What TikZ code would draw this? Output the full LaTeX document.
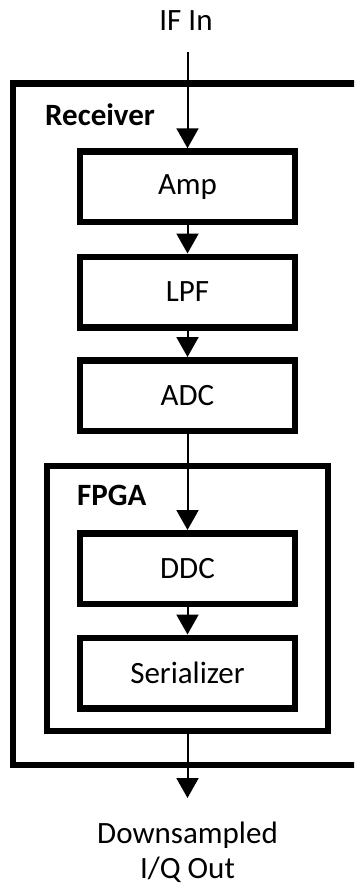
\documentclass[tikz,border=0pt]{standalone}
\usepackage{fontspec}
\setmainfont{Carlito}
\usetikzlibrary{arrows.meta}
\begin{document}
\begin{tikzpicture}[x=1pt,y=-1pt,
  every node/.style={font=\fontsize{31}{35}\selectfont},
  blockbox/.style={draw=black,line width=6.5pt,minimum width=215pt,minimum height=70.5pt,inner sep=0pt},
  groupbox/.style={draw=black,line width=6.5pt,inner sep=0pt},
  flow/.style={draw=black,line width=2pt,-{Triangle[width=22pt,length=20pt]}},
  grouplabel/.style={anchor=base west,inner sep=0pt,font=\fontsize{31}{35}\selectfont\bfseries}]
\useasboundingbox (0,0) rectangle (354,886);
\clip (0,0) rectangle (354,886);
\node[groupbox,minimum width=347pt,minimum height=681.5pt] (recv) at (186.5,424.25) {};
\node[groupbox,minimum width=281pt,minimum height=265pt] (fpga) at (187.5,598.5) {};
\node[grouplabel] (recvlbl) at (45,125) {Receiver};
\node[grouplabel] (fpgalbl) at (77,505) {FPGA};
\node[blockbox] (amp) at (187.5,186.75) {Amp};
\node[blockbox] (lpf) at (187.5,292) {LPF};
\node[blockbox] (adc) at (187.5,395.5) {ADC};
\node[blockbox] (ddc) at (187.5,568.5) {DDC};
\node[blockbox] (ser) at (187.5,673) {Serializer};
\node[anchor=base,inner sep=0pt] (ifin) at (186,30) {IF In};
\node[anchor=base,inner sep=0pt,align=center] (outlbl) at (187.5,878) {Downsampled\\I/Q Out};
\coordinate (instart) at (187.5,52);
\coordinate (outend) at (187.5,798);
\draw[flow] (instart) -- (amp.north);
\draw[flow] (amp.south) -- (lpf.north);
\draw[flow] (lpf.south) -- (adc.north);
\draw[flow] (adc.south) -- (ddc.north);
\draw[flow] (ddc.south) -- (ser.north);
\draw[flow] (fpga.south) -- (outend);
\end{tikzpicture}
\end{document}
